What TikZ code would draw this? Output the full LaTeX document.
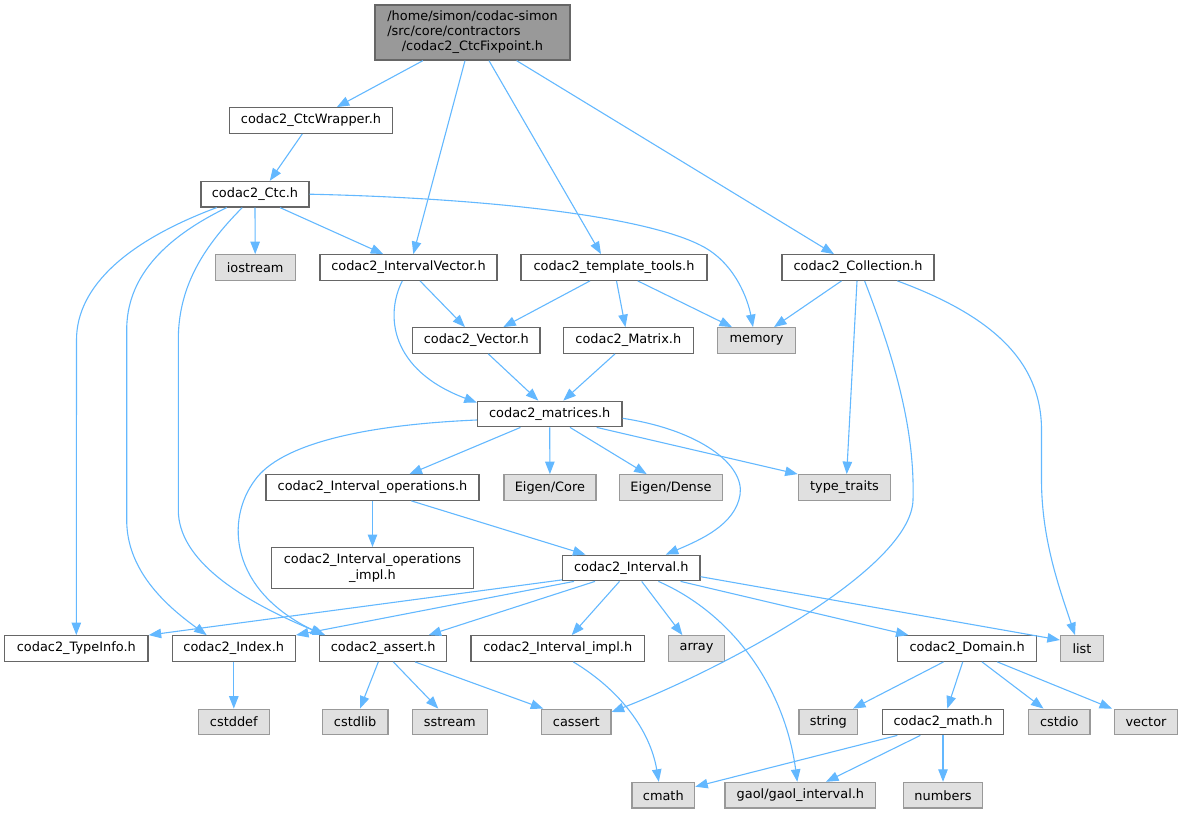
\documentclass[tikz,border=0pt]{standalone}
\usepackage{fontspec}
\setmainfont{DejaVu Sans}
\usetikzlibrary{arrows.meta}
\definecolor{edgec}{HTML}{63B8FF}
\definecolor{bdark}{HTML}{666666}
\definecolor{blight}{HTML}{999999}
\definecolor{gfill}{HTML}{E0E0E0}
\definecolor{tfill}{HTML}{999999}
\newcommand\fsz{\fontsize{12.9}{15.3}\selectfont}
\tikzset{
  fbox/.style={draw=bdark, fill=white, line width=1.3pt, inner sep=0pt, minimum height=25.5pt, font=\fsz, text=black},
  sbox/.style={fbox, draw=blight, fill=gfill},
  tbox/.style={fbox, fill=tfill},
  dep/.style={draw=edgec, line width=1.1pt, -{Triangle[length=12.5pt,width=9.5pt]}},
}
\begin{document}
\begin{tikzpicture}[x=1pt, y=-1pt]
\useasboundingbox (0,0) rectangle (1183,813);
% nodes
\node[tbox, minimum width=195pt, minimum height=55pt] (top) at (472.5,32.5)
  {\begin{tabular}{@{}l@{}}/home/simon/codac-simon\\/src/core/contractors\\\multicolumn{1}{@{}c@{}}{/codac2\_CtcFixpoint.h}\end{tabular}};
\node[fbox, minimum width=163pt] (wrap) at (311,120.5) {codac2\_CtcWrapper.h};
\node[fbox, minimum width=108pt] (ctc) at (255,194.2) {codac2\_Ctc.h};
\node[sbox, minimum width=80pt] (iostream) at (255.2,267.5) {iostream};
\node[fbox, minimum width=177pt] (ivec) at (408.5,267.5) {codac2\_IntervalVector.h};
\node[fbox, minimum width=186pt] (ttools) at (614,267.5) {codac2\_template\_tools.h};
\node[fbox, minimum width=152pt] (coll) at (858,267.5) {codac2\_Collection.h};
\node[fbox, minimum width=127.3pt] (vech) at (476.3,340.5) {codac2\_Vector.h};
\node[fbox, minimum width=130pt] (matrix) at (628.3,340.5) {codac2\_Matrix.h};
\node[sbox, minimum width=78pt] (memory) at (756.5,340.5) {memory};
\node[fbox, minimum width=144.5pt] (matrices) at (549.7,414) {codac2\_matrices.h};
\node[fbox, minimum width=213pt] (iops) at (372.5,487.5) {codac2\_Interval\_operations.h};
\node[sbox, minimum width=92pt] (ecore) at (549.9,487.5) {Eigen/Core};
\node[sbox, minimum width=103.3pt] (edense) at (671,487.5) {Eigen/Dense};
\node[sbox, minimum width=92.3pt] (traits) at (844.5,487.5) {type\_traits};
\node[fbox, minimum width=202pt, minimum height=40.7pt, align=center] (iopsimpl) at (372.5,568) {codac2\_Interval\_operations\\\_impl.h};
\node[fbox, minimum width=137.4pt] (interval) at (631.3,568) {codac2\_Interval.h};
\node[fbox, minimum width=143.5pt] (typeinfo) at (76.3,648.5) {codac2\_TypeInfo.h};
\node[fbox, minimum width=123pt] (index) at (233.8,648.5) {codac2\_Index.h};
\node[fbox, minimum width=127pt] (assert) at (383.2,648.5) {codac2\_assert.h};
\node[fbox, minimum width=173.7pt] (ivimpl) at (557.8,648.5) {codac2\_Interval\_impl.h};
\node[sbox, minimum width=56pt] (array) at (696.5,648.5) {array};
\node[fbox, minimum width=139pt] (domain) at (967.1,648.5) {codac2\_Domain.h};
\node[sbox, minimum width=43pt] (list) at (1082,648.5) {list};
\node[sbox, minimum width=71pt] (cstddef) at (233.8,722) {cstddef};
\node[sbox, minimum width=65.7pt] (cstdlib) at (355.2,722) {cstdlib};
\node[sbox, minimum width=75pt] (sstream) at (449.8,722) {sstream};
\node[sbox, minimum width=69.3pt] (cassert) at (576.3,722) {cassert};
\node[sbox, minimum width=58.7pt] (string) at (828.4,722) {string};
\node[fbox, minimum width=121.5pt] (math) at (943,722) {codac2\_math.h};
\node[sbox, minimum width=61.5pt] (cstdio) at (1059.3,722) {cstdio};
\node[sbox, minimum width=62.7pt] (vector) at (1146,722) {vector};
\node[sbox, minimum width=62.6pt] (cmath) at (663.3,795.2) {cmath};
\node[sbox, minimum width=150.8pt] (gaol) at (800.4,795.2) {gaol/gaol\_interval.h};
\node[sbox, minimum width=78.5pt] (numbers) at (943,795.2) {numbers};
% edges
\draw[dep] ([xshift=-49.6pt]top.south) -- ([xshift=25.8pt]wrap.north);
\draw[dep] ([xshift=-7.5pt]top.south) -- ([xshift=4.8pt]ivec.north);
\draw[dep] ([xshift=16.5pt]top.south) -- ([xshift=-13pt]ttools.north);
\draw[dep] ([xshift=44.1pt]top.south) -- ([xshift=-24pt]coll.north);
\draw[dep] ([xshift=-8.7pt]wrap.south) -- ([xshift=14.8pt]ctc.north);
\draw[dep] (ctc.south) -- (iostream.north);
\draw[dep] ([xshift=25pt]ctc.south) -- ([xshift=-25.2pt]ivec.north);
\draw[dep] (ctc.east) .. controls (480,198) and (640,215) .. (700,245) .. controls (735,262) and (748,300) .. ([xshift=-3.5pt]memory.north);
\draw[dep] ([xshift=-38.3pt]ctc.south) .. controls (130,240) and (76.5,285) .. (76.5,340) -- (typeinfo.north);
\draw[dep] ([xshift=-28.3pt]ctc.south) .. controls (160,240) and (126.7,280) .. (126.7,330) -- (126.7,520) .. controls (126.7,570) and (165,605) .. ([xshift=-27.1pt]index.north);
\draw[dep] ([xshift=-12.7pt]ctc.south) .. controls (200,250) and (178.3,290) .. (178.3,340) -- (178.3,510) .. controls (178.3,560) and (240,600) .. ([xshift=-58pt]assert.north);
\draw[dep] ([xshift=11.5pt]ivec.south) -- ([xshift=-11.3pt]vech.north);
\draw[dep] ([xshift=-6.2pt]ivec.south) .. controls (385,315) and (390,370) .. ([yshift=-2pt]matrices.north west);
\draw[dep] ([xshift=-24pt]ttools.south) -- ([xshift=27pt]vech.north);
\draw[dep] ([xshift=2.5pt]ttools.south) -- ([xshift=-2.9pt]matrix.north);
\draw[dep] ([xshift=23.7pt]ttools.south) -- ([xshift=-24.5pt]memory.north);
\draw[dep] ([xshift=-16.5pt]coll.south) -- ([xshift=17.5pt]memory.north);
\draw[dep] ([xshift=-1pt]coll.south) -- ([xshift=2.2pt]traits.north);
\draw[dep] ([xshift=6.6pt]coll.south) .. controls (895,360) and (915,430) .. (913,500) .. controls (911,570) and (720,670) .. ([yshift=10pt]cassert.east);
\draw[dep] ([xshift=39.3pt]coll.south) .. controls (990,315) and (1041.5,360) .. (1041.5,430) -- (1041.5,480) .. controls (1041.5,540) and (1060,590) .. ([xshift=-7pt]list.north);
\draw[dep] ([xshift=12pt]vech.south) -- ([xshift=-11.4pt]matrices.north);
\draw[dep] ([xshift=-13.3pt]matrix.south) -- ([xshift=13.6pt]matrices.north);
\draw[dep] ([xshift=-29.2pt]matrices.south) -- ([xshift=37pt]iops.north);
\draw[dep] (matrices.south) -- (ecore.north);
\draw[dep] ([xshift=20.3pt]matrices.south) -- ([xshift=-24.3pt]edense.north);
\draw[dep] ([xshift=47pt]matrices.south) -- (traits.north west);
\draw[dep] ([yshift=-6pt]matrices.west) .. controls (360,425) and (280,445) .. (255,480) .. controls (225,520) and (230,590) .. ([xshift=-60pt]assert.north);
\draw[dep] ([yshift=-4.3pt]matrices.east) .. controls (700,430) and (745,465) .. (740,495) .. controls (735,525) and (700,540) .. ([xshift=34.5pt]interval.north);
\draw[dep] (iops.south) -- (iopsimpl.north);
\draw[dep] ([xshift=38.9pt]iops.south) -- ([xshift=-45.8pt]interval.north);
\draw[dep] ([yshift=1.5pt]interval.south west) -- (typeinfo.north east);
\draw[dep] ([xshift=-57.3pt]interval.south) -- (index.north east);
\draw[dep] ([xshift=-36.3pt]interval.south) -- ([xshift=45.4pt]assert.north);
\draw[dep] ([xshift=-11.8pt]interval.south) -- ([xshift=13.9pt]ivimpl.north);
\draw[dep] ([xshift=10.4pt]interval.south) -- ([xshift=-14.1pt]array.north);
\draw[dep] ([xshift=27.1pt]interval.south) .. controls (735,615) and (785,690) .. ([xshift=-3.1pt]gaol.north);
\draw[dep] ([xshift=49.3pt]interval.south) -- ([xshift=-58.6pt]domain.north);
\draw[dep] ([yshift=-8.7pt]interval.east) -- ([yshift=8.5pt]list.west);
\draw[dep] (index.south) -- (cstddef.north);
\draw[dep] ([xshift=-4.9pt]assert.south) -- ([xshift=4.8pt]cstdlib.north);
\draw[dep] ([xshift=10.1pt]assert.south) -- ([xshift=-11.5pt]sstream.north);
\draw[dep] ([xshift=31.8pt]assert.south) -- ([xshift=-33pt]cassert.north);
\draw[dep] ([xshift=15.5pt]ivimpl.south) .. controls (620,690) and (650,730) .. ([xshift=-4.5pt]cmath.north);
\draw[dep] ([xshift=-23.6pt]domain.south) -- ([xshift=24.6pt]string.north);
\draw[dep] ([xshift=-4.4pt]domain.south) -- ([xshift=4.3pt]math.north);
\draw[dep] ([xshift=14.9pt]domain.south) -- ([xshift=-15.8pt]cstdio.north);
\draw[dep] ([xshift=30.2pt]domain.south) -- ([xshift=-34pt]vector.north);
\draw[dep] ([xshift=-45.7pt]math.south) -- ([yshift=8.5pt]cmath.east);
\draw[dep] ([xshift=-22.6pt]math.south) -- ([xshift=25.6pt]gaol.north);
\draw[dep] (math.south) -- (numbers.north);
\end{tikzpicture}
\end{document}
